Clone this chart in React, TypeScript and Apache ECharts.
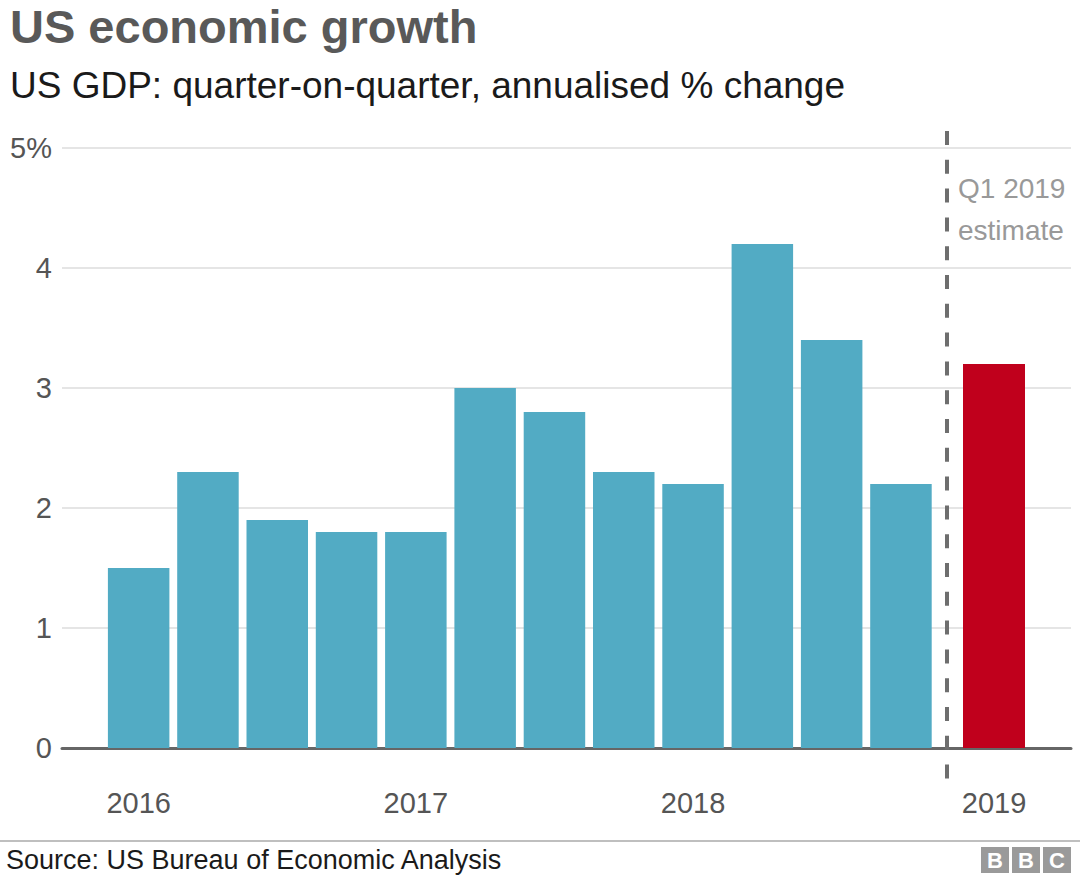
import React, { useEffect, useRef } from "react";
import * as echarts from "echarts";

const quarters = [
  "2016 Q1", "2016 Q2", "2016 Q3", "2016 Q4",
  "2017 Q1", "2017 Q2", "2017 Q3", "2017 Q4",
  "2018 Q1", "2018 Q2", "2018 Q3", "2018 Q4",
];
const growth = [1.5, 2.3, 1.9, 1.8, 1.8, 3.0, 2.8, 2.3, 2.2, 4.2, 3.4, 2.2];
const estimateQuarter = ["2019 Q1"];
const estimateValue = [3.2];
const yTicks = [0, 1, 2, 3, 4, 5];

const titleText = "US economic growth";
const subtitleText = "US GDP: quarter-on-quarter, annualised % change";
const sourceText = "Source: US Bureau of Economic Analysis";
const noteLines = ["Q1 2019", "estimate"];

const FONT = "'Liberation Sans', Arial, Helvetica, sans-serif";

export default function App() {
  const ref = useRef<HTMLDivElement>(null);
  useEffect(() => {
    if (!ref.current) return;
    const chart = echarts.init(ref.current, null, { renderer: "svg" });
    const yearLabel = (v: string) => (v.endsWith("Q1") ? v.slice(0, 4) : "");
    const top = 148;
    const bottom = 129;
    const option: any = {
      animation: false,
      backgroundColor: "#ffffff",
      textStyle: { fontFamily: FONT },
      grid: [
        { left: 62, right: 9, top, bottom },
        { left: 104, right: 144.4, top, bottom },
        { left: 959.3, right: 51.3, top, bottom },
      ],
      xAxis: [
        {
          gridIndex: 0, type: "value", min: 0, max: 1,
          axisLine: { show: true, lineStyle: { color: "#666666", width: 3 } },
          axisTick: { show: false }, axisLabel: { show: false }, splitLine: { show: false },
        },
        {
          gridIndex: 1, type: "category", data: quarters,
          axisLine: { show: false }, axisTick: { show: false },
          axisLabel: {
            interval: 0, formatter: yearLabel, margin: 40,
            fontSize: 29, color: "#555555", fontFamily: FONT,
          },
        },
        {
          gridIndex: 2, type: "category", data: estimateQuarter,
          axisLine: { show: false }, axisTick: { show: false },
          axisLabel: {
            interval: 0, formatter: yearLabel, margin: 40,
            fontSize: 29, color: "#555555", fontFamily: FONT,
          },
        },
      ],
      yAxis: [
        {
          gridIndex: 0, type: "value", min: yTicks[0], max: yTicks[yTicks.length - 1], interval: 1,
          axisLine: { show: false }, axisTick: { show: false },
          axisLabel: {
            margin: 10, fontSize: 29, color: "#555555", fontFamily: FONT,
            formatter: (v: number) => (v === 5 ? "5%" : String(v)),
          },
          splitLine: { show: true, lineStyle: { color: "#dddddd", width: 1.5 } },
        },
        { gridIndex: 1, type: "value", min: 0, max: 5, show: false },
        { gridIndex: 2, type: "value", min: 0, max: 5, show: false },
      ],
      series: [
        {
          type: "bar", xAxisIndex: 1, yAxisIndex: 1, data: growth,
          barWidth: 61.5, itemStyle: { color: "#52abc4" }, silent: true,
        },
        {
          type: "bar", xAxisIndex: 2, yAxisIndex: 2, data: estimateValue,
          barWidth: 62, itemStyle: { color: "#c0001c" }, silent: true,
        },
      ],
      graphic: [
        {
          type: "text", left: 10, top: 3,
          style: { text: titleText, font: `bold 47px ${FONT}`, fill: "#595959" },
        },
        {
          type: "text", left: 10, top: 67,
          style: { text: subtitleText, font: `37px ${FONT}`, fill: "#1a1a1a" },
        },
        {
          type: "line",
          shape: { x1: 947, y1: 131, x2: 947, y2: 779 },
          style: { stroke: "#6e6e6e", lineWidth: 4, lineDash: [14, 14.8] },
          z: 10,
        },
        {
          type: "text", left: 958, top: 167,
          style: { text: noteLines.join("\n"), font: `28px ${FONT}`, fill: "#999999", lineHeight: 42 },
        },
        {
          type: "line",
          shape: { x1: 0, y1: 841, x2: 1080, y2: 841 },
          style: { stroke: "#aaaaaa", lineWidth: 1.5 },
        },
        {
          type: "text", left: 6, top: 846,
          style: { text: sourceText, font: `27px ${FONT}`, fill: "#1a1a1a" },
        },
        {
          type: "group", left: 981, top: 847,
          children: ["B", "B", "C"].flatMap((ch, i) => [
            { type: "rect", shape: { x: i * 31, y: 0, width: 28, height: 26 }, style: { fill: "#9a9a9a" } },
            {
              type: "text", x: i * 31 + 14, y: 13.5,
              style: { text: ch, font: `bold 22px ${FONT}`, fill: "#ffffff", align: "center", verticalAlign: "middle" },
            },
          ]),
        },
      ],
    };
    chart.setOption(option);
    return () => chart.dispose();
  }, []);
  return (
    <div
      ref={ref}
      style={{ position: "fixed", left: 0, top: 0, width: 1080, height: 877, background: "#fff" }}
    />
  );
}
